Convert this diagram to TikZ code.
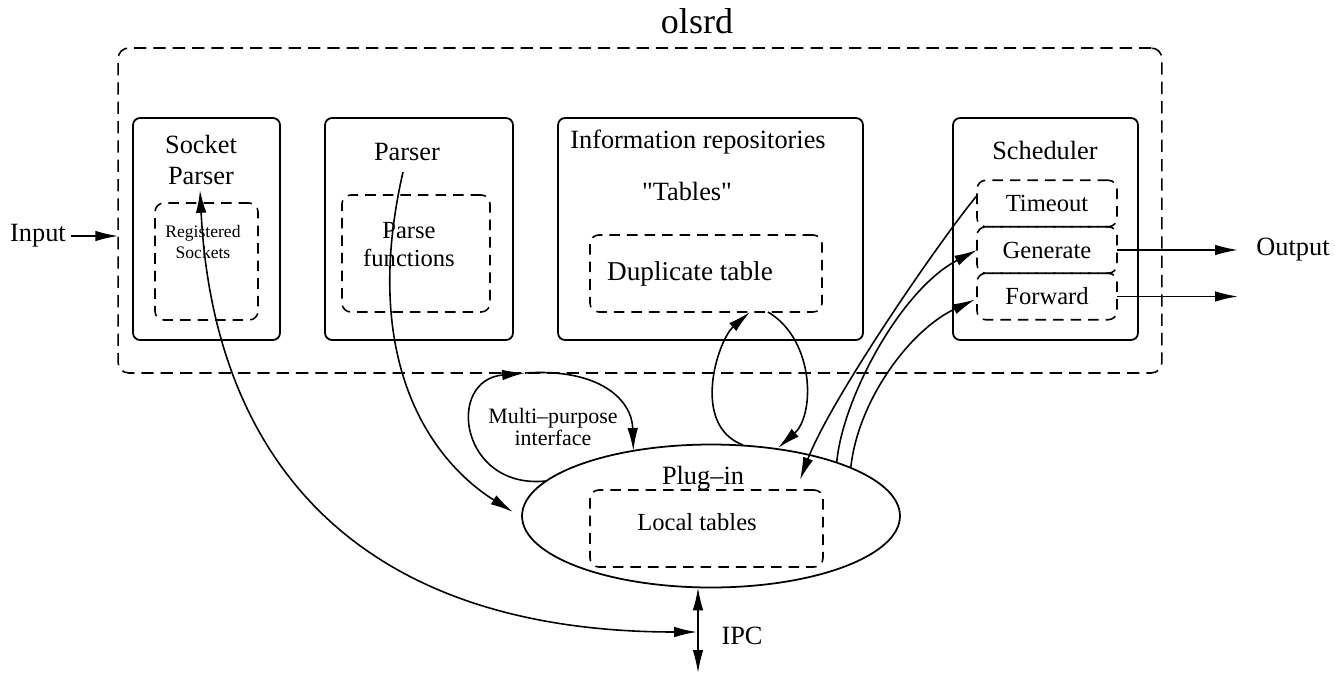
\documentclass[tikz,border=0pt]{standalone}
\usepackage{fontspec}
\setmainfont{Liberation Serif}
\usetikzlibrary{arrows.meta, positioning, calc, shapes.geometric}

\tikzset{
  frame/.style={draw, dash pattern=on 7pt off 4pt, rounded corners=6pt, line width=0.9pt},
  mod/.style={draw, rounded corners=4pt, line width=1pt},
  sub/.style={draw, dash pattern=on 6pt off 4pt, rounded corners=5pt, line width=0.9pt,
              font=\fontsize{14}{16}\selectfont},
  ttl/.style={font=\fontsize{15}{18}\selectfont, align=center},
  arr/.style={-{Latex[length=13pt,width=6pt]}, line width=0.9pt},
  dbl/.style={{Latex[length=13pt,width=6pt]}-{Latex[length=13pt,width=6pt]}, line width=0.9pt},
}

\begin{document}
\begin{tikzpicture}[x=0.02cm, y=-0.02cm, inner sep=0pt, outer sep=0pt]
    \useasboundingbox (0,0) rectangle (1335,673);

    % daemon frame
    \node[frame, minimum width=20.88cm, minimum height=6.5cm] (olsrd) at (640,210.5) {};
    \node[font=\fontsize{20.5}{24}\selectfont]                      at (697,21)   {olsrd};

    % modules
    \node[mod, minimum width=2.94cm, minimum height=4.44cm] (sock_p)  at (206.5,229) {};
    \node[ttl]                                                        at (201,160)   {Socket\\Parser};
    \node[sub, minimum width=2.06cm, minimum height=2.34cm] (reg_s)   at (206.5,261.5) {};
    \node[ttl, font=\fontsize{10}{12.5}\selectfont]                   at (203,242)   {Registered\\Sockets};

    \node[mod, minimum width=3.76cm, minimum height=4.44cm] (parse_p) at (419,229)   {};
    \node[ttl]                                                        at (407,152)   {Parser};
    \node[sub, minimum width=2.96cm, minimum height=2.34cm] (parse_f) at (416,253.5) {};
    \node[ttl, font=\fontsize{14}{16}\selectfont]                     at (409,245)   {Parse\\functions};

    \node[mod, minimum width=6.1cm, minimum height=4.44cm]  (info_r)  at (710.5,229) {};
    \node[ttl]                                                        at (698,142)   {Information repositories};
    \node[ttl]                                                        at (687,191)   {\textquotedbl Tables\textquotedbl};
    \node[sub, minimum width=4.64cm, minimum height=1.54cm] (dup_t)   at (706,273.5) {};
    \node[ttl, font=\fontsize{15.5}{18}\selectfont]                   at (690,274)   {Duplicate table};

    \node[mod, minimum width=3.7cm, minimum height=4.44cm]  (sched)   at (1045.5,229) {};
    \node[ttl]                                                        at (1045,150)  {Scheduler};
    \node[sub, minimum width=2.8cm, minimum height=0.93cm]  (timeout) at (1047,203.5) {Timeout};
    \node[sub, minimum width=2.8cm, minimum height=0.93cm]  (generate) [below=0pt of timeout] {Generate};
    \node[sub, minimum width=2.8cm, minimum height=0.93cm]  (forward)  [below=0pt of generate] {Forward};

    % plug-in
    \node[draw, ellipse, line width=1pt, minimum width=7.56cm, minimum height=2.86cm] (plug_in) at (711,516) {};
    \node[ttl]                                                        at (703,478)   {Plug--in};
    \node[sub, minimum width=4.66cm, minimum height=1.54cm] (local_t) at (706.5,528.5) {};
    \node[ttl, font=\fontsize{14}{16}\selectfont]                     at (697,522)   {Local tables};

    \node[ttl, font=\fontsize{12.5}{13}\selectfont] (mpi)    at (553,427) {Multi--purpose\\interface};
    \node[ttl]                                      (input)  at (38,236)  {Input};
    \node[ttl]                                      (output) at (1293,250) {Output};
    \node[ttl]                                      (ipc)    at (742,636) {IPC};
    \coordinate (ipc_b)   at (698,673);
    \coordinate (ipc_m)   at (697,632);
    \coordinate (mpi_top) at ($(mpi)+(-28,-54)$);

    % in / out
    \draw[arr] ($(input.east)+(5,0)$) -- (input.east -| olsrd.west);
    \draw[arr, shorten >=10.5pt] (generate.east) -- (generate.east -| output.west);
    \draw[arr, shorten >=10.5pt] (forward.east)  -- (forward.east -| output.west);
    \draw[dbl] (ipc_b |- plug_in.south) -- (ipc_b);

    % plug-in links
    \draw[dbl] ($(sock_p)+(-6.5,-39)$) .. controls (213,450) and (347,632) .. (ipc_m);
    \draw[arr] ($(parse_p)+(-16,-57)$) .. controls (360,360) and (430,460) .. ($(plug_in)+(-198,-4)$);
    \draw[arr] (plug_in.168) .. controls (460,490) and (445,380) .. (mpi_top);
    \draw[arr] (mpi_top) .. controls (600,368) and (632,400) .. (plug_in.140);
    \draw[arr] ($(plug_in)+(32,-71)$) .. controls (690,425) and (718,340) .. ($(dup_t.south)+(44,0)$);
    \draw[arr] ($(dup_t.south)+(62,0)$) .. controls (815,340) and (815,415) .. ($(plug_in)+(67,-68)$);
    \draw[arr] ($(timeout.west)+(0,-8)$) .. controls (940,240) and (830,400) .. ($(plug_in)+(89,-36)$);
    \draw[arr] (plug_in.23) .. controls (842,400) and (900,290) .. (generate.west);
    \draw[arr] (plug_in.19) .. controls (858,400) and (910,330) .. ($(forward.west)+(-2,3)$);
\end{tikzpicture}
\end{document}
